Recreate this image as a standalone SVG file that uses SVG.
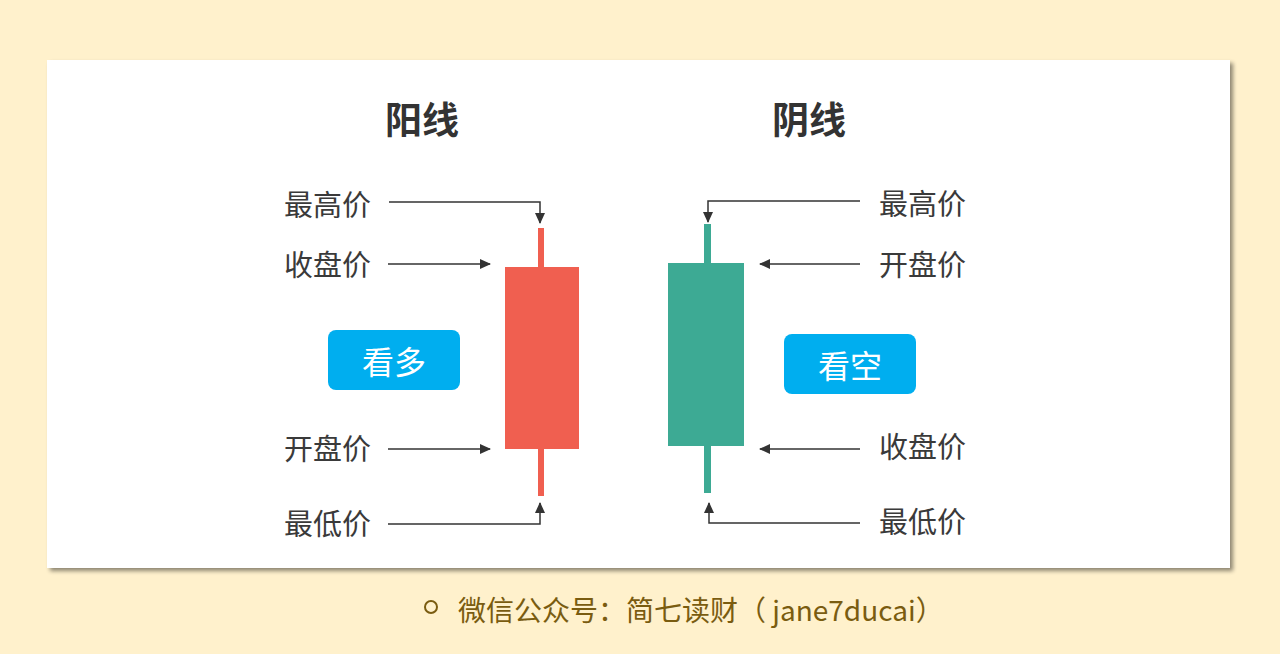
<svg xmlns="http://www.w3.org/2000/svg" width="1280" height="654" viewBox="0 0 1280 654">
<defs>
<marker id="ah" markerWidth="12" markerHeight="12" refX="10" refY="5.5" orient="auto" markerUnits="userSpaceOnUse">
<path d="M0,0.5 L11,5.5 L0,10.5 Z" fill="#333"/>
</marker>
<filter id="sh" x="-5%" y="-5%" width="110%" height="110%">
<feGaussianBlur in="SourceAlpha" stdDeviation="2"/>
<feOffset dx="3" dy="3"/>
<feComponentTransfer><feFuncA type="linear" slope="0.45"/></feComponentTransfer>
<feMerge><feMergeNode/><feMergeNode in="SourceGraphic"/></feMerge>
</filter>
</defs>
<style>
.lbl{font-family:"Noto Sans CJK SC","Noto Sans",sans-serif;font-size:29px;fill:#3a3a3a;dominant-baseline:central}
.ttl{font-family:"Noto Sans CJK SC","Noto Sans",sans-serif;font-size:37px;font-weight:bold;fill:#333;dominant-baseline:central}
.btn{font-family:"Noto Sans CJK SC","Noto Sans",sans-serif;font-size:32px;fill:#fff;dominant-baseline:central;text-anchor:middle}
.ln{fill:none;stroke:#333;stroke-width:1.5}
</style>
<rect width="1280" height="654" fill="#FFF1CC"/>
<rect x="47" y="60" width="1183" height="508" fill="#fff" filter="url(#sh)"/>
<g id="title-yang"><text class="ttl" x="385" y="118">阳线</text></g>
<g id="title-yin"><text class="ttl" x="772" y="118">阴线</text></g>
<g id="candle-yang">
<rect x="538" y="228" width="6" height="268" fill="#F05F50"/>
<rect x="505" y="267" width="74" height="182" fill="#F05F50"/>
</g>
<g id="candle-yin">
<rect x="704" y="224" width="7" height="269" fill="#3DAA94"/>
<rect x="668" y="263" width="76" height="183" fill="#3DAA94"/>
</g>
<g id="btn-kanduo"><rect x="328" y="330" width="132" height="60" rx="8" fill="#00AEEF"/><text class="btn" x="394" y="360">看多</text></g>
<g id="btn-kankong"><rect x="784" y="334" width="132" height="60" rx="8" fill="#00AEEF"/><text class="btn" x="850" y="364">看空</text></g>
<g id="labels-left">
<text class="lbl" x="284" y="203">最高价</text>
<text class="lbl" x="284" y="263">收盘价</text>
<text class="lbl" x="284" y="447">开盘价</text>
<text class="lbl" x="284" y="522">最低价</text>
</g>
<g id="labels-right">
<text class="lbl" x="879" y="202">最高价</text>
<text class="lbl" x="879" y="263">开盘价</text>
<text class="lbl" x="879" y="445">收盘价</text>
<text class="lbl" x="879" y="520">最低价</text>
</g>
<g id="connectors">
<path class="ln" d="M389,202 H540 V223" marker-end="url(#ah)"/>
<path class="ln" d="M388,264 H490" marker-end="url(#ah)"/>
<path class="ln" d="M388,449 H490" marker-end="url(#ah)"/>
<path class="ln" d="M388,524 H540 V503" marker-end="url(#ah)"/>
<path class="ln" d="M860,201 H708 V222" marker-end="url(#ah)"/>
<path class="ln" d="M860,264 H760" marker-end="url(#ah)"/>
<path class="ln" d="M860,449 H760" marker-end="url(#ah)"/>
<path class="ln" d="M860,523 H709 V503" marker-end="url(#ah)"/>
</g>
<g id="footer">
<circle cx="431" cy="607" r="6" fill="none" stroke="#7A5C10" stroke-width="2"/>
<text x="458" y="609" font-family="'Noto Sans CJK SC','Noto Sans',sans-serif" font-size="28" fill="#7A5C10" dominant-baseline="central">微信公众号：简七读财（ jane7ducai）</text>
</g>
</svg>
